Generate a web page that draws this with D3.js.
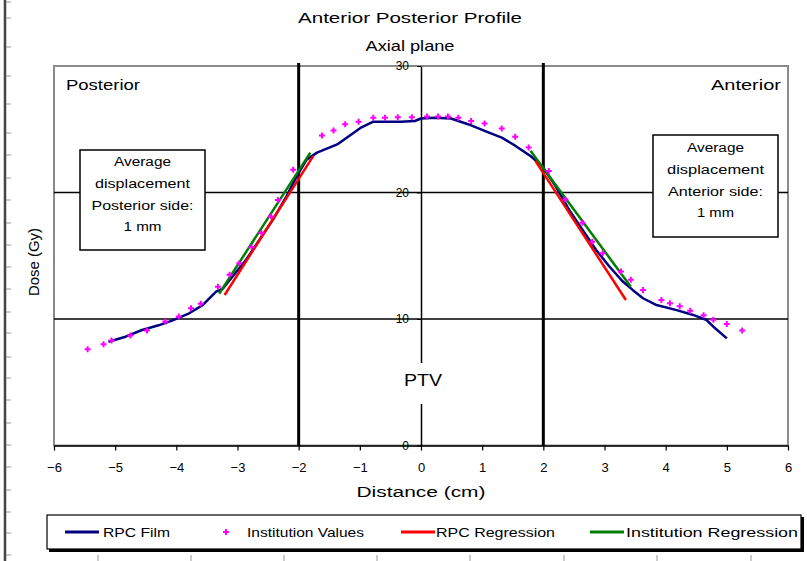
<!DOCTYPE html>
<html><head><meta charset="utf-8">
<script src="https://cdn.jsdelivr.net/npm/d3@7/dist/d3.min.js"></script>
<style>
body{margin:0;background:#fff}
text{font-family:"Liberation Sans",Arial,sans-serif;fill:#000}
</style>
</head><body>
<svg id="c" width="807" height="561"></svg>
<script>
// ---------- data ----------
const xTicks = [-6,-5,-4,-3,-2,-1,0,1,2,3,4,5,6];
const yTicks = [0,10,20,30];
const ptvEdges = [-2, 2];
const gridValues = [10, 20];

const rpcFilmX = [-5.11,-4.83,-4.56,-4.29,-4.07,-3.79,-3.57,-3.35,-3.24,-3.08,-2.86,-2.64,-2.42,-2.2,-2.03,-1.87,-1.7,-1.37,-0.99,-0.78,-0.33,-0.1,0.0,0.22,0.49,0.77,1.04,1.32,1.54,1.79,1.98,2.2,2.42,2.64,2.86,3.08,3.3,3.46,3.63,3.85,4.18,4.45,4.67,4.78,5.0];
const rpcFilmY = [8.2,8.6,9.13,9.5,9.87,10.45,11.1,12.17,12.4,13.36,14.68,16.27,17.86,19.7,21.3,22.6,23.15,23.8,25.1,25.6,25.6,25.65,25.85,25.9,25.85,25.4,24.87,24.34,23.7,22.88,22.1,20.5,18.65,17.06,15.48,14.15,12.96,12.3,11.64,11.1,10.7,10.32,9.92,9.39,8.47];

const instX = [-5.45,-5.19,-5.06,-4.75,-4.48,-4.18,-3.96,-3.76,-3.6,-3.32,-3.13,-2.97,-2.77,-2.61,-2.45,-2.34,-2.09,-1.62,-1.43,-1.24,-1.02,-0.78,-0.59,-0.38,-0.15,0.1,0.28,0.44,0.61,0.82,1.04,1.32,1.54,1.76,2.09,2.36,2.64,2.8,2.97,3.27,3.43,3.63,3.93,4.07,4.23,4.4,4.62,4.78,5.0,5.25];
const instY = [7.6,8.0,8.3,8.7,9.1,9.8,10.2,10.85,11.2,12.55,13.5,14.4,15.7,16.8,18.1,19.4,21.8,24.5,24.9,25.4,25.6,25.9,25.9,25.95,25.95,26.0,26.0,26.0,25.9,25.65,25.45,25.05,24.4,23.55,21.7,19.45,17.6,16.1,15.2,13.75,13.1,12.3,11.5,11.25,11.0,10.65,10.3,9.95,9.6,9.1];

const rpcRegLeftX = [-3.21,-1.76];   const rpcRegLeftY = [11.9,22.9];
const rpcRegRightX = [1.87,3.35];    const rpcRegRightY = [22.5,11.5];
const instRegLeftX = [-3.3,-1.81];   const instRegLeftY = [12.0,23.15];
const instRegRightX = [1.79,3.43];   const instRegRightY = [23.3,12.55];

const titleLines = ["Anterior Posterior Profile","Axial plane"];
const leftBoxLines = ["Average","displacement","Posterior side:","1 mm"];
const rightBoxLines = ["Average","displacement","Anterior side:","1 mm"];
const legendLabels = ["RPC Film","Institution Values","RPC Regression","Institution Regression"];

// decorative screenshot ruler ticks
const rulerTicks = [2,18,47,76,104,133,155,178,200,223,245,267,289,312,333,357,378,400,423,445,467,490,512,533,555];
const bottomTicks = [98,191,284,377,470,564,657,751];

// ---------- drawing ----------
const svg = d3.select("#c");
const x = d3.scaleLinear().domain([-6,6]).range([54,788]);
const y = d3.scaleLinear().domain([0,30]).range([445.5,66]);
const zip = (a,b)=>a.map((v,i)=>[v,b[i]]);

// ruler artefacts
svg.append("line").attr("x1",5).attr("x2",5).attr("y1",0).attr("y2",561).attr("stroke","#444").attr("stroke-width",2.5);
svg.selectAll(".rt").data(rulerTicks).join("line").attr("x1",6).attr("x2",11).attr("y1",d=>d).attr("y2",d=>d).attr("stroke","#999").attr("stroke-width",1);
svg.selectAll(".bt").data(bottomTicks).join("line").attr("x1",d=>d).attr("x2",d=>d).attr("y1",555).attr("y2",561).attr("stroke","#999").attr("stroke-width",1);

function txt(s, cx, cy, size, len, anchor){
  const t = svg.append("text").attr("x",cx).attr("y",cy).attr("font-size",size)
    .attr("text-anchor",anchor||"middle").attr("dominant-baseline","central").text(s);
  if(len){ t.attr("textLength",len).attr("lengthAdjust","spacingAndGlyphs"); }
  return t;
}

// titles
txt(titleLines[0], 410, 17, 15, 224);
txt(titleLines[1], 410, 45, 15, 89);

// plot frame (gray)
svg.append("rect").attr("x",54).attr("y",66).attr("width",734).attr("height",379.5)
  .attr("fill","none").attr("stroke","#8a8a8a").attr("stroke-width",2);

// gridlines
svg.selectAll(".grid").data(gridValues).join("line")
  .attr("x1",x(-6)).attr("x2",x(6)).attr("y1",d=>y(d)).attr("y2",d=>y(d))
  .attr("stroke","#000").attr("stroke-width",1.5);

// PTV edges
svg.selectAll(".ptv").data(ptvEdges).join("line")
  .attr("x1",d=>x(d)).attr("x2",d=>x(d)).attr("y1",63).attr("y2",y(0))
  .attr("stroke","#000").attr("stroke-width",3);

// x axis
const gx = svg.append("g").attr("transform",`translate(0,${y(0)})`)
  .call(d3.axisBottom(x).tickValues(xTicks).tickSize(5).tickSizeOuter(0).tickPadding(12).tickFormat(d3.format("d")));
gx.select(".domain").attr("stroke","#000").attr("stroke-width",1.5);
gx.selectAll(".tick line").attr("stroke","#000").attr("stroke-width",1.2);
gx.selectAll("text").attr("font-size",13).attr("font-family","'Liberation Sans',Arial,sans-serif");

// y axis at x=0
const gy = svg.append("g").attr("transform",`translate(${x(0)},0)`)
  .call(d3.axisLeft(y).tickValues(yTicks).tickSize(4).tickSizeOuter(0).tickPadding(8));
gy.select(".domain").attr("stroke","#000").attr("stroke-width",1.5);
gy.selectAll(".tick line").attr("stroke","#000");
gy.selectAll("text").attr("font-size",12).attr("font-family","'Liberation Sans',Arial,sans-serif");

// PTV label (with white patch over axis)
svg.append("rect").attr("x",401).attr("y",363).attr("width",44).attr("height",41).attr("fill","#fff");
txt("PTV", 423, 380, 16, 38);

// corner labels
txt("Posterior", 66, 85, 14, 74, "start");
txt("Anterior", 781, 85, 14, 70, "end");

// annotation boxes
function box(x0,y0,w,h,lines,cx,firstY,widths){
  svg.append("rect").attr("x",x0).attr("y",y0).attr("width",w).attr("height",h)
    .attr("fill","#fff").attr("stroke","#000").attr("stroke-width",1.5);
  lines.forEach((s,i)=>txt(s,cx,firstY+i*21.8,12.5,widths[i]));
}
box(80,150,125,100,leftBoxLines,142.5,162,[57,95,102,38]);
box(653,135,125,102,rightBoxLines,715.5,148,[57,97,95,37]);

// axis titles
svg.append("text").attr("transform","translate(34,262) rotate(-90)")
  .attr("text-anchor","middle").attr("dominant-baseline","central").attr("font-size",14)
  .attr("textLength",68).attr("lengthAdjust","spacingAndGlyphs").text("Dose (Gy)");
txt("Distance (cm)", 421, 492, 14, 129);

// series
const line = d3.line().x(d=>x(d[0])).y(d=>y(d[1]));
svg.append("path").datum(zip(rpcFilmX,rpcFilmY)).attr("d",line)
  .attr("fill","none").attr("stroke","#000080").attr("stroke-width",2.5).attr("stroke-linejoin","round");
[[instRegLeftX,instRegLeftY],[instRegRightX,instRegRightY]].forEach(([a,b])=>{
  svg.append("path").datum(zip(a,b)).attr("d",line).attr("fill","none").attr("stroke","#008000").attr("stroke-width",2.5);
});
[[rpcRegLeftX,rpcRegLeftY],[rpcRegRightX,rpcRegRightY]].forEach(([a,b])=>{
  svg.append("path").datum(zip(a,b)).attr("d",line).attr("fill","none").attr("stroke","#ff0000").attr("stroke-width",2.5);
});
const sym = d3.symbol().type(d3.symbolCross).size(20);
svg.selectAll(".inst").data(zip(instX,instY)).join("path")
  .attr("d",sym).attr("transform",d=>`translate(${x(d[0])},${y(d[1])})`).attr("fill","#ff00ff");

// legend
svg.append("rect").attr("x",49).attr("y",517).attr("width",755).attr("height",35).attr("fill","#000");
svg.append("rect").attr("x",47).attr("y",515).attr("width",754).attr("height",34)
  .attr("fill","#fff").attr("stroke","#000").attr("stroke-width",1.2);
const lg = [
  {type:"line",color:"#000080",x0:65,x1:99,tx:103,tw:67},
  {type:"dot",color:"#ff00ff",x0:226,tx:247,tw:117},
  {type:"line",color:"#ff0000",x0:401,x1:435,tx:436,tw:119},
  {type:"line",color:"#008000",x0:590,x1:624,tx:626,tw:172}
];
lg.forEach((e,i)=>{
  if(e.type==="line"){
    svg.append("line").attr("x1",e.x0).attr("x2",e.x1).attr("y1",532).attr("y2",532).attr("stroke",e.color).attr("stroke-width",3);
  } else {
    svg.append("path").attr("d",sym).attr("transform",`translate(${e.x0},532)`).attr("fill",e.color);
  }
  txt(legendLabels[i], e.tx, 532, 13, e.tw, "start");
});
</script>
</body></html>
